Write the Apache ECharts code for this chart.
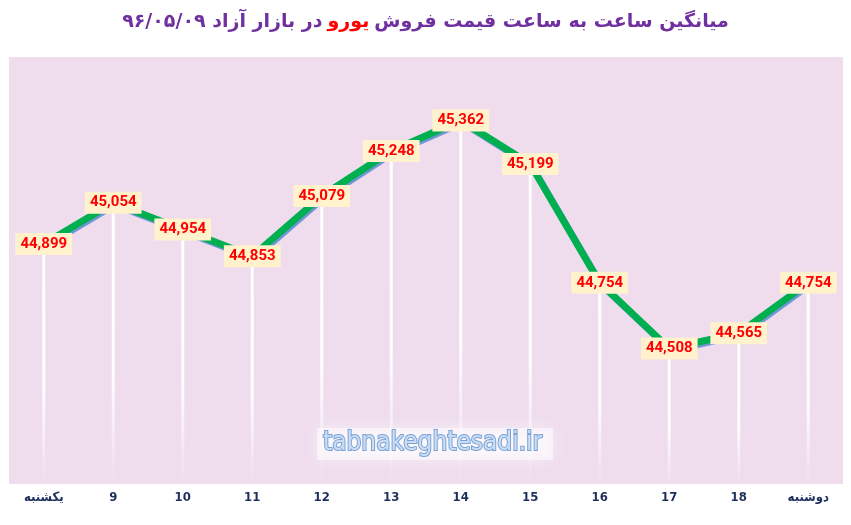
<!DOCTYPE html>
<html>
<head>
<meta charset="utf-8">
<script src="https://cdn.jsdelivr.net/npm/echarts@6/dist/echarts.min.js"></script>
<style>
  html, body { margin: 0; padding: 0; background: #fff; }
  #main { width: 851px; height: 525px; }
</style>
</head>
<body>
<div id="main"></div>
<script>
// ساعت‌ها (محور افقی)
const hours = ['یکشنبه', '9', '10', '11', '12', '13', '14', '15', '16', '17', '18', 'دوشنبه'];
// قیمت فروش یورو
const prices = [44899, 45054, 44954, 44853, 45079, 45248, 45362, 45199, 44754, 44508, 44565, 44754];

const titleRight = 'میانگین ساعت به ساعت قیمت فروش';
const titleRed = 'یورو';
const titleLeft = 'در بازار آزاد ۹۶/۰۵/۰۹';

const chart = echarts.init(document.getElementById('main'));

const option = {
  animation: false,
  backgroundColor: '#ffffff',
  title: {
    left: 'center',
    top: 8,
    text: '{p|' + titleLeft + '} {r|' + titleRed + '} {p|' + titleRight + '}',
    textStyle: {
      rich: {
        p: { color: '#7030A0', fontSize: 19, fontWeight: 'bold', fontFamily: 'DejaVu Sans' },
        r: { color: '#FF0000', fontSize: 19, fontWeight: 'bold', fontFamily: 'DejaVu Sans' }
      }
    }
  },
  grid: {
    left: 9,
    right: 8,
    top: 57,
    bottom: 41,
    show: true,
    backgroundColor: '#EFDDEE',
    borderWidth: 0
  },
  xAxis: {
    type: 'category',
    data: hours,
    boundaryGap: true,
    axisLine: { show: false },
    axisTick: { show: false },
    axisLabel: {
      color: '#1F2F5C',
      fontWeight: 'bold',
      fontSize: 13,
      fontFamily: 'DejaVu Sans Condensed',
      margin: 7
    }
  },
  yAxis: {
    type: 'value',
    min: 44000,
    max: 45600,
    show: false,
    splitLine: { show: false }
  },
  graphic: [
    {
      type: 'rect',
      left: 317,
      top: 428,
      shape: { width: 236, height: 32 },
      style: { fill: 'rgba(255,255,255,0.5)', shadowBlur: 14, shadowColor: '#ffffff' },
      z: 1
    },
    {
      type: 'text',
      left: 322,
      top: 429,
      style: {
        text: 'tabnakeghtesadi.ir',
        font: '26px "DejaVu Sans Condensed"',
        fill: '#CADDF4',
        stroke: '#7AA3D6',
        lineWidth: 2,
        shadowBlur: 6,
        shadowColor: '#ffffff'
      },
      z: 2
    }
  ],
  series: [
    {
      type: 'bar',
      data: prices,
      barWidth: 3,
      silent: true,
      z: 1,
      itemStyle: {
        color: new echarts.graphic.LinearGradient(0, 0, 0, 1, [
          { offset: 0, color: 'rgba(255,255,255,1)' },
          { offset: 0.6, color: 'rgba(255,255,255,0.95)' },
          { offset: 1, color: 'rgba(255,255,255,0)' }
        ])
      }
    },
    {
      type: 'line',
      data: prices,
      z: 3,
      symbol: 'circle',
      symbolSize: 2,
      itemStyle: { color: '#00B050' },
      lineStyle: {
        color: '#00B050',
        width: 7,
        shadowColor: '#7196D6',
        shadowBlur: 0,
        shadowOffsetX: 1.5,
        shadowOffsetY: 2
      },
      label: {
        show: true,
        position: 'inside',
        color: '#FF0000',
        fontWeight: 'bold',
        fontSize: 15,
        fontFamily: 'Roboto',
        backgroundColor: '#FFF2CC',
        padding: [4, 5, 3, 5],
        formatter: function (p) {
          return p.value.toLocaleString('en-US');
        }
      }
    }
  ]
};

chart.setOption(option);
</script>
</body>
</html>
